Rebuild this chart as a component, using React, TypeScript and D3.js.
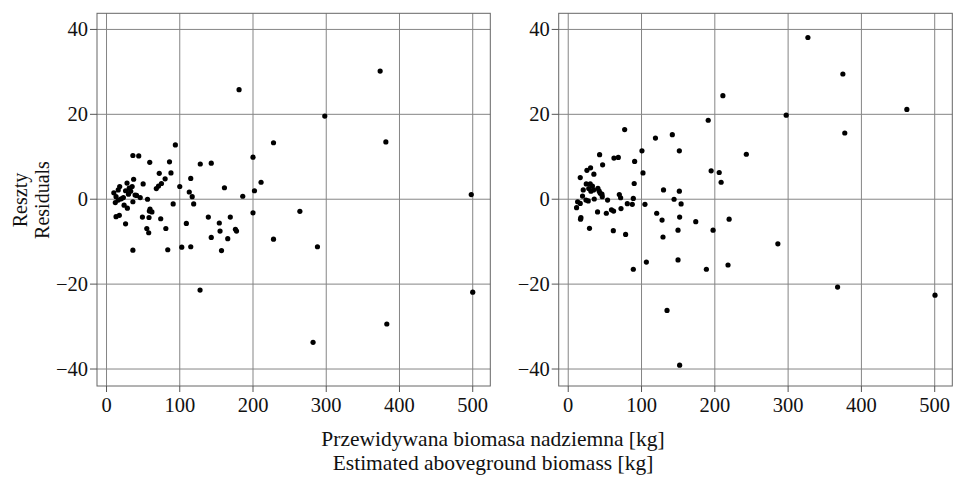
import React from "react";
import * as d3 from "d3";

// residuals vs. estimated biomass, two models
const leftPoints: [number, number][] = [
  [181, 25.8], [228, 13.3], [94, 12.8], [36, 10.3], [44, 10.2], [59, 8.7], [86, 8.8],
  [128, 8.3], [143, 8.5], [200, 9.9], [72, 6.1], [88, 6.2], [37, 4.7], [80, 4.8],
  [115, 4.9], [211, 4.0], [50, 3.6], [18, 3.0], [28, 3.8], [75, 3.7], [71, 3.1],
  [68, 2.5], [100, 3.0], [161, 2.7], [202, 2.0], [113, 1.7], [117, 0.6], [186, 0.7],
  [10, 1.5], [31, 2.6], [33, 1.9], [30, 1.2], [35, 3.0], [16, 2.2], [13, 0.6],
  [23, 0.4], [12, -0.8], [16, -0.2], [24, -1.4], [28.5, -2.1], [36, -0.6], [41, 0.9],
  [46, 0.4], [56, 0], [91, -1.1], [119, -1.1], [13, -4.1], [17.5, -3.8], [26, -5.8],
  [49, -4.2], [58, -4.3], [58.5, -2.8], [62, -3.0], [74, -4.6], [55, -6.9], [57.6, -7.9],
  [81, -6.9], [109, -5.7], [139, -4.2], [169, -4.2], [154, -5.6], [155, -7.5], [143, -9.0],
  [165.5, -9.3], [176, -7.1], [177.5, -7.5], [200, -3.2], [264, -2.85], [228, -9.4],
  [36, -12.0], [83.6, -11.9], [102.7, -11.3], [115, -11.2], [157, -12.1], [127.7, -21.4],
  [373.6, 30.2], [298, 19.6], [381.4, 13.5], [498, 1.1], [288, -11.2], [500, -21.9],
  [382.7, -29.4], [282, -33.7], [59.4, -2.3], [20, 0.1], [26, 2.0], [39, 1.0],
];

const rightPoints: [number, number][] = [
  [211, 24.4], [191, 18.6], [77, 16.4], [119, 14.4], [142, 15.2], [151.6, 11.4],
  [100.6, 11.4], [42.8, 10.5], [62.4, 9.7], [68.3, 9.85], [90.6, 8.9], [46.9, 8.1],
  [102, 6.2], [195, 6.7], [206, 6.3], [208.6, 4.0], [25.5, 6.8], [30.5, 7.4], [16.4, 5.1],
  [35, 5.9], [90, 3.7], [130, 2.2], [151.6, 1.9], [69.7, 1.1], [144.4, 0], [154, -1.1],
  [104.7, -1.2], [88.8, 0.2], [87.4, -1.2], [80.6, -1.05], [71.5, 0.35], [72, -2.2],
  [59, -2.5], [61.9, -2.8], [52, -3.3], [40, -3.0], [53.7, -0.2], [46.4, 0.6], [43.7, 1.4],
  [35.5, 0.05], [29, -6.85], [17.3, -4.35], [16.8, -4.7], [11.4, -2.0], [12.8, -0.6],
  [16.4, -1.0], [27.3, -0.4], [24.2, -0.2], [19.5, 0.75], [20.5, 2.2], [24.6, 3.6],
  [30, 3.6], [31, 1.9], [34.6, 2.2], [40.5, 2.55], [42.3, 1.9], [46, 1.2], [61.5, -7.4],
  [78.3, -8.3], [88.8, -16.5], [106.6, -14.8], [120.7, -3.3], [128, -4.9], [129.3, -8.9],
  [152, -4.2], [149.8, -7.3], [149.8, -14.3], [174, -5.3], [197.6, -7.3], [188.5, -16.5],
  [218, -15.5], [219.5, -4.7], [134.8, -26.2], [152, -39.1], [327, 38.1], [374.7, 29.5],
  [462, 21.15], [297.4, 19.8], [377.3, 15.6], [243, 10.6], [286, -10.5], [367.5, -20.7],
  [500.4, -22.6], [28, 2.5], [33, 3.1],
];

const xTicks = [0, 100, 200, 300, 400, 500];
const yTicks = [-40, -20, 0, 20, 40];
const xTitle = ["Przewidywana biomasa nadziemna [kg]", "Estimated aboveground biomass [kg]"];
const yTitle = ["Reszty", "Residuals"];

const W = 955;
const H = 479;
const font = "'Liberation Serif', 'Times New Roman', serif";

const top = 13.3;
const bottom = 386;
const y = d3.scaleLinear().domain([-44, 43.8]).range([bottom, top]);

const fmt = (v: number) => (v < 0 ? "\u2212" + Math.abs(v) : String(v));

const Panel = ({ left, right, data }: { left: number; right: number; data: [number, number][] }) => {
  const x = d3.scaleLinear().domain([-13, 524]).range([left, right]);
  return (
    <g>
      {xTicks.map((t) => (
        <line key={"gx" + t} x1={x(t)} x2={x(t)} y1={top} y2={bottom} stroke="#858585" strokeWidth={1} />
      ))}
      {yTicks.map((t) => (
        <line key={"gy" + t} x1={left} x2={right} y1={y(t)} y2={y(t)} stroke="#858585" strokeWidth={1} />
      ))}
      <rect x={left} y={top} width={right - left} height={bottom - top} fill="none" stroke="#666" strokeWidth={1} />
      {xTicks.map((t) => (
        <g key={"tx" + t}>
          <line x1={x(t)} x2={x(t)} y1={bottom} y2={bottom + 6} stroke="#555" />
          <text x={x(t)} y={bottom + 26} textAnchor="middle" fontSize={20.5} fontFamily={font} fill="#111">
            {t}
          </text>
        </g>
      ))}
      {yTicks.map((t) => (
        <g key={"ty" + t}>
          <line x1={left - 7} x2={left} y1={y(t)} y2={y(t)} stroke="#555" />
          <text x={left - 9} y={y(t) + 7} textAnchor="end" fontSize={20.5} fontFamily={font} fill="#111">
            {fmt(t)}
          </text>
        </g>
      ))}
      {data.map(([v, r], i) => (
        <circle key={i} cx={x(v)} cy={y(r)} r={2.6} fill="#000" />
      ))}
    </g>
  );
};

export default function App() {
  return (
    <svg
      width={W}
      height={H}
      style={{ position: "absolute", left: 0, top: 0, background: "#fff" }}
    >
      <Panel left={97} right={490.3} data={leftPoints} />
      <Panel left={558.7} right={952.3} data={rightPoints} />
      {xTitle.map((s, i) => (
        <text key={s} x={493} y={446 + i * 24} textAnchor="middle" fontSize={21.5} fontFamily={font} fill="#111">
          {s}
        </text>
      ))}
      {yTitle.map((s, i) => (
        <text
          key={s}
          transform={`translate(${27 + i * 22},200) rotate(-90)`}
          textAnchor="middle"
          fontSize={20}
          fontFamily={font}
          fill="#111"
        >
          {s}
        </text>
      ))}
    </svg>
  );
}
